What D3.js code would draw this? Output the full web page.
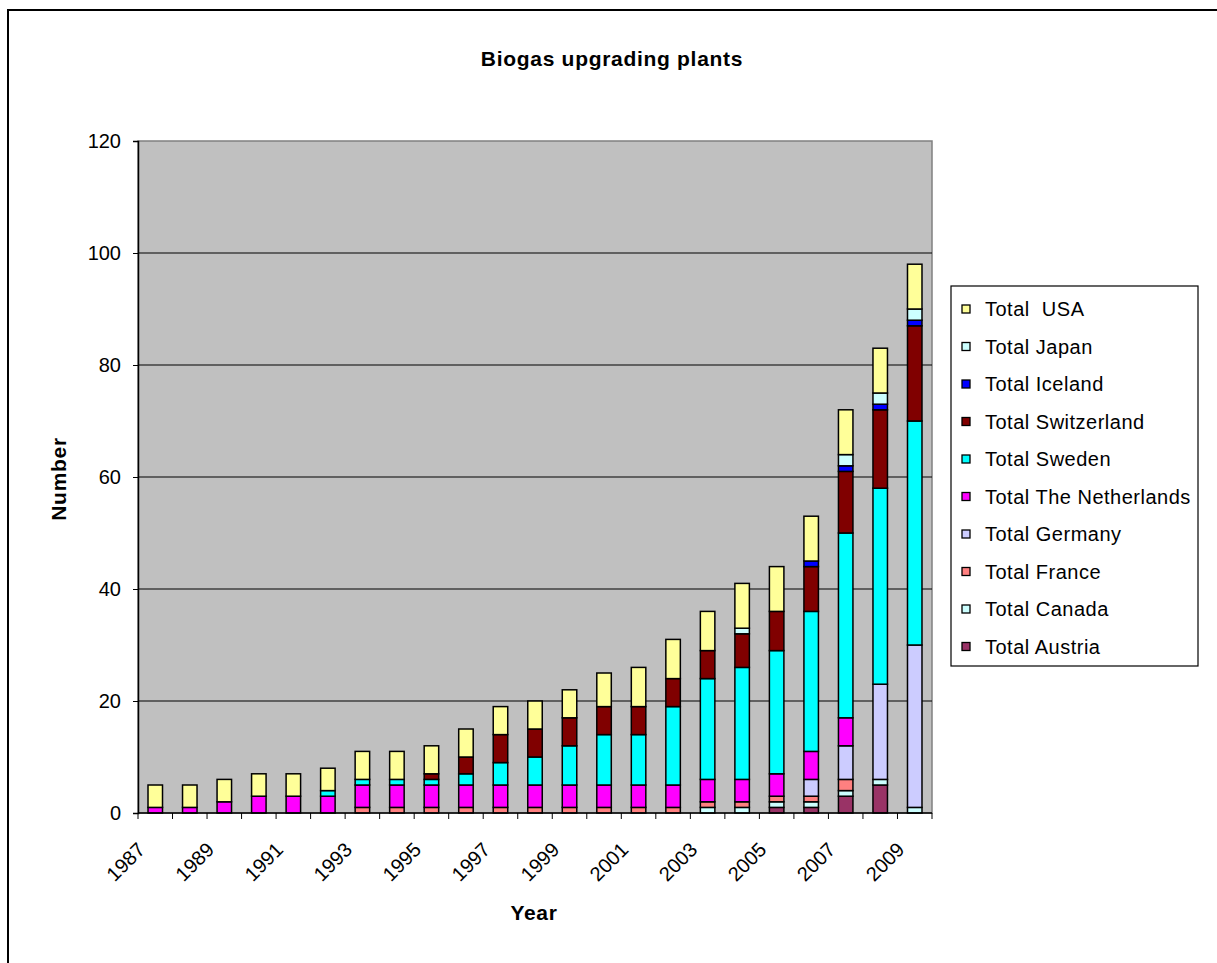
<!DOCTYPE html>
<html>
<head>
<meta charset="utf-8">
<script src="https://cdn.jsdelivr.net/npm/d3@7"></script>
<style>
  body { margin: 0; background: #fff; }
  svg text { font-family: "Liberation Sans", Arial, sans-serif; }
</style>
</head>
<body>
<svg id="chart" width="1217" height="963"></svg>
<script>
// data (1987 - 2009)
const years = d3.range(1987, 2010);
const austria     = [0,0,0,0,0,0,0,0,0,0,0,0,0,0,0,0,0,0,1,1,3,5,0];
const canada      = [0,0,0,0,0,0,0,0,0,0,0,0,0,0,0,0,1,1,1,1,1,1,1];
const france      = [0,0,0,0,0,0,1,1,1,1,1,1,1,1,1,1,1,1,1,1,2,0,0];
const germany     = [0,0,0,0,0,0,0,0,0,0,0,0,0,0,0,0,0,0,0,3,6,17,29];
const netherlands = [1,1,2,3,3,3,4,4,4,4,4,4,4,4,4,4,4,4,4,5,5,0,0];
const sweden      = [0,0,0,0,0,1,1,1,1,2,4,5,7,9,9,14,18,20,22,25,33,35,40];
const switzerland = [0,0,0,0,0,0,0,0,1,3,5,5,5,5,5,5,5,6,7,8,11,14,17];
const iceland     = [0,0,0,0,0,0,0,0,0,0,0,0,0,0,0,0,0,0,0,1,1,1,1];
const japan       = [0,0,0,0,0,0,0,0,0,0,0,0,0,0,0,0,0,1,0,0,2,2,2];
const usa         = [4,4,4,4,4,4,5,5,5,5,5,5,5,6,7,7,7,8,8,8,8,8,8];

// stack order, bottom to top
const series = [
  {key: "Austria", name: "Total Austria", values: austria, color: "#993366"},
  {key: "Canada", name: "Total Canada", values: canada, color: "#CCFFFF"},
  {key: "France", name: "Total France", values: france, color: "#FF8080"},
  {key: "Germany", name: "Total Germany", values: germany, color: "#CCCCFF"},
  {key: "Netherlands", name: "Total The Netherlands", values: netherlands, color: "#FF00FF"},
  {key: "Sweden", name: "Total Sweden", values: sweden, color: "#00FFFF"},
  {key: "Switzerland", name: "Total Switzerland", values: switzerland, color: "#800000"},
  {key: "Iceland", name: "Total Iceland", values: iceland, color: "#0000FF"},
  {key: "Japan", name: "Total Japan", values: japan, color: "#CCFFFF"},
  {key: "USA", name: "Total  USA", values: usa, color: "#FFFF99"}
];
const yTicks = [0, 20, 40, 60, 80, 100, 120];

const rows = years.map((y, i) => {
  const r = {year: y};
  series.forEach(s => r[s.key] = s.values[i]);
  return r;
});

const svg = d3.select('#chart');
const plotL = 138, plotR = 932, plotT = 141, plotB = 813;

// outer chart border
svg.append('rect')
  .attr('x', 8).attr('y', 10)
  .attr('width', 1230).attr('height', 980)
  .attr('fill', 'none').attr('stroke', '#000').attr('stroke-width', 2);

const xScale = d3.scaleBand().domain(years).range([plotL, plotR]).paddingInner(0.58).paddingOuter(0.29);
const yScale = d3.scaleLinear().domain([0, 120]).range([plotB, plotT]);

// plot area
svg.append('rect')
  .attr('x', plotL).attr('y', plotT)
  .attr('width', plotR - plotL).attr('height', plotB - plotT)
  .attr('fill', '#C0C0C0').attr('stroke', '#808080').attr('stroke-width', 1.5);

// gridlines
svg.append('g').selectAll('line')
  .data(yTicks.filter(t => t > 0 && t < 120))
  .join('line')
  .attr('x1', plotL).attr('x2', plotR)
  .attr('y1', d => yScale(d)).attr('y2', d => yScale(d))
  .attr('stroke', '#000').attr('stroke-width', 1);

// bars
const stacked = d3.stack().keys(series.map(s => s.key))(rows);
const barG = svg.append('g');
stacked.forEach((layer, li) => {
  barG.append('g')
    .attr('fill', series[li].color)
    .selectAll('rect')
    .data(layer.filter(d => d[1] > d[0]))
    .join('rect')
    .attr('x', d => xScale(d.data.year))
    .attr('width', xScale.bandwidth())
    .attr('y', d => yScale(d[1]))
    .attr('height', d => yScale(d[0]) - yScale(d[1]))
    .attr('stroke', '#000').attr('stroke-width', 1.5);
});

// y axis
const yAxis = d3.axisLeft(yScale).tickValues(yTicks).tickSize(5).tickPadding(12);
const yg = svg.append('g').attr('transform', `translate(${plotL},0)`).call(yAxis);
yg.select('.domain').attr('stroke', '#000').attr('stroke-width', 1.5);
yg.selectAll('.tick line').attr('stroke', '#000');
yg.selectAll('.tick text').attr('font-size', 20).attr('fill', '#000')
  .style('font-family', '"Liberation Sans", Arial, sans-serif');

// x axis line and ticks between categories
const step = xScale.step();
svg.append('line')
  .attr('x1', plotL).attr('x2', plotR).attr('y1', plotB).attr('y2', plotB)
  .attr('stroke', '#000').attr('stroke-width', 1.5);
svg.append('g').selectAll('line')
  .data(d3.range(years.length + 1))
  .join('line')
  .attr('x1', i => plotL + i * step).attr('x2', i => plotL + i * step)
  .attr('y1', plotB).attr('y2', plotB + 6)
  .attr('stroke', '#000');

// x labels, every other year
svg.append('g').selectAll('text')
  .data(years.filter((y, i) => i % 2 === 0))
  .join('text')
  .attr('transform', d => `translate(${xScale(d) + xScale.bandwidth() / 2 - 9},${plotB + 38}) rotate(-45)`)
  .attr('text-anchor', 'end')
  .attr('font-size', 20)
  .text(d => d);

// titles
const boldText = (sel) => sel.attr('text-anchor', 'middle')
  .attr('font-size', 21).attr('font-weight', 'bold').attr('letter-spacing', 0.7);
svg.append('text')
  .attr('x', 612).attr('y', 66)
  .call(boldText)
  .text('Biogas upgrading plants');
svg.append('text')
  .attr('x', 534).attr('y', 920)
  .call(boldText)
  .text('Year');
svg.append('text')
  .attr('transform', 'translate(66,479) rotate(-90)')
  .call(boldText)
  .text('Number');

// legend
const lg = svg.append('g');
lg.append('rect')
  .attr('x', 951).attr('y', 286)
  .attr('width', 247).attr('height', 380)
  .attr('fill', '#fff').attr('stroke', '#000').attr('stroke-width', 1.2);
const legendItems = series.slice().reverse();
const item = lg.selectAll('g.item')
  .data(legendItems)
  .join('g')
  .attr('class', 'item')
  .attr('transform', (d, i) => `translate(962,${309 + i * 37.5})`);
item.append('rect')
  .attr('x', 0).attr('y', -4)
  .attr('width', 8).attr('height', 8)
  .attr('fill', d => d.color).attr('stroke', '#000').attr('stroke-width', 1.3);
item.append('text')
  .attr('x', 23).attr('y', 7)
  .attr('font-size', 20)
  .attr('letter-spacing', 0.5)
  .style('white-space', 'pre')
  .text(d => d.name);
</script>
</body>
</html>
